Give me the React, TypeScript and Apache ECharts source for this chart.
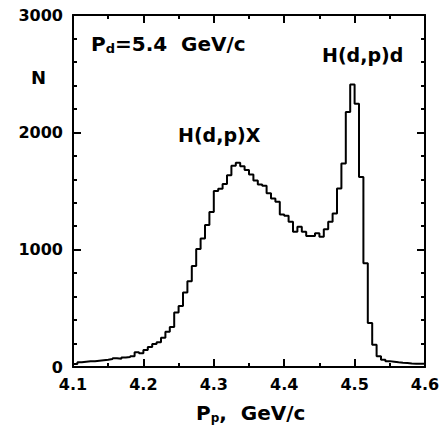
import React, { useEffect, useRef } from "react";
import * as echarts from "echarts";

// Histogram of proton momentum P_p (GeV/c), 80 bins from 4.1 to 4.6
const BIN_START = 4.1;
const BIN_WIDTH = 0.00625;
const counts: number[] = [
  25, 40, 45, 48, 50, 54, 58, 62, 68, 75,
  70, 80, 85, 92, 125, 118, 145, 170, 195, 210,
  250, 300, 340, 465, 520, 635, 730, 860, 1005, 1095,
  1210, 1320, 1500, 1520, 1560, 1635, 1715, 1740, 1710, 1680,
  1640, 1590, 1555, 1545, 1480, 1436, 1408, 1300, 1290, 1238,
  1153, 1195, 1153, 1116, 1116, 1139, 1110, 1173, 1238, 1309,
  1521, 1734, 2173, 2408, 2244, 1620, 884, 374, 190, 91,
  62, 50, 45, 40, 36, 34, 30, 28, 28, 28,
];
const xTicks = [4.1, 4.2, 4.3, 4.4, 4.5, 4.6];
const yTicks = [0, 1000, 2000, 3000];

const FONT = "DejaVu Sans";

export default function App() {
  const ref = useRef<HTMLDivElement>(null);
  useEffect(() => {
    if (!ref.current) return;
    const chart = echarts.init(ref.current, undefined, { renderer: "svg" });
    const data: number[][] = counts.map((c, i) => [
      +(BIN_START + i * BIN_WIDTH).toFixed(5),
      c,
    ]);
    data.push([+(BIN_START + counts.length * BIN_WIDTH).toFixed(5), counts[counts.length - 1]]);

    const xMin = xTicks[0];
    const xMax = xTicks[xTicks.length - 1];
    const yMin = yTicks[0];
    const yMax = yTicks[yTicks.length - 1];

    const line = { color: "#000", width: 2 };
    const tickLine = { color: "#000", width: 2 };
    const labelStyle = {
      color: "#000",
      fontFamily: FONT,
      fontWeight: "bold",
      fontSize: 16,
    };
    const xBase = { type: "value", min: xMin, max: xMax, interval: 0.1, splitLine: { show: false } };
    const yBase = { type: "value", min: yMin, max: yMax, interval: 1000, splitLine: { show: false } };
    const frame = (base: any, position: string, label: any, split: number) => ({
      ...base,
      position,
      axisLine: { show: true, onZero: false, lineStyle: line },
      axisTick: { show: true, inside: true, length: 8, lineStyle: tickLine },
      minorTick: { show: true, splitNumber: split, length: 4, lineStyle: tickLine },
      axisLabel: label,
    });

    chart.setOption({
      animation: false,
      backgroundColor: "#fff",
      grid: { left: 73, right: 22, top: 15, bottom: 62 },
      xAxis: [
        frame(xBase, "bottom", { ...labelStyle, margin: 9, formatter: (v: number) => v.toFixed(1) }, 2),
        frame(xBase, "top", { show: false }, 2),
      ],
      yAxis: [
        frame(yBase, "left", { ...labelStyle, margin: 10, formatter: (v: number) => String(v) }, 5),
        frame(yBase, "right", { show: false }, 5),
      ],
      series: [
        {
          type: "line",
          step: "end",
          data,
          xAxisIndex: 0,
          yAxisIndex: 0,
          symbol: "none",
          lineStyle: { color: "#000", width: 2 },
          silent: true,
        },
      ],
      graphic: [
        {
          type: "text",
          left: 31,
          top: 68,
          style: { text: "N", font: `bold 18px '${FONT}'`, fill: "#000" },
        },
        {
          type: "text",
          left: 91,
          top: 34,
          style: {
            text: "{a|P}{s|d}{a|=5.4  GeV/c}",
            rich: {
              a: { fontFamily: FONT, fontWeight: "bold", fontSize: 20, fill: "#000" },
              s: { fontFamily: FONT, fontWeight: "bold", fontSize: 13, fill: "#000", verticalAlign: "bottom", padding: [9, 0, 0, 0] },
            },
          },
        },
        {
          type: "text",
          left: 178,
          top: 125,
          style: { text: "H(d,p)X", font: `bold 19px '${FONT}'`, fill: "#000" },
        },
        {
          type: "text",
          left: 322,
          top: 45,
          style: { text: "H(d,p)d", font: `bold 19px '${FONT}'`, fill: "#000" },
        },
        {
          type: "text",
          left: 196,
          top: 403,
          style: {
            text: "{a|P}{s|p}{a|,  GeV/c}",
            rich: {
              a: { fontFamily: FONT, fontWeight: "bold", fontSize: 20, fill: "#000" },
              s: { fontFamily: FONT, fontWeight: "bold", fontSize: 12, fill: "#000", verticalAlign: "bottom", padding: [9, 0, 0, 0] },
            },
          },
        },
      ],
    });
    return () => chart.dispose();
  }, []);
  return (
    <div
      ref={ref}
      style={{ position: "fixed", left: 0, top: 0, width: 447, height: 429 }}
    />
  );
}
